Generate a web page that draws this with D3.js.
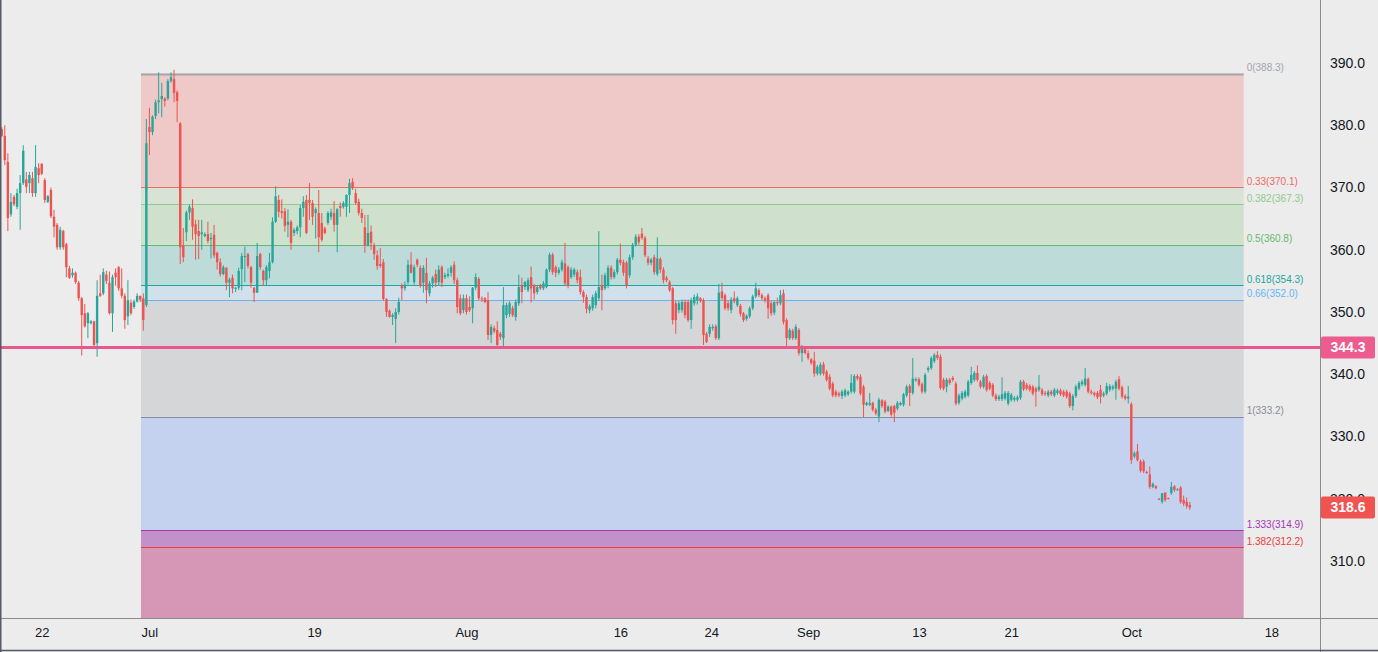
<!DOCTYPE html>
<html>
<head>
<meta charset="utf-8">
<script src="https://cdn.jsdelivr.net/npm/d3@7"></script>
<style>
  body { margin: 0; background: #ececec; overflow: hidden; }
  svg { display: block; font-family: "Liberation Sans", Arial, sans-serif; }
</style>
</head>
<body>
<div id="chart"></div>
<script>

// candles are [open, high, low, close], 5 bars per trading day
var junCandles = [
  [379.4,379.7,378.1,378.3],[378.3,380.0,373.6,374.4],[374.1,375.5,363.0,365.1],[365.7,369.1,365.3,367.7],
  [368.5,368.8,367.0,367.3],[366.9,369.8,366.5,369.1],[369.1,372.0,363.2,370.7],[370.7,376.8,370.4,375.9],
  [371.3,372.5,369.1,370.1],[370.7,372.5,369.1,372.0],[371.5,372.5,368.5,369.1],[369.1,376.8,368.5,373.3],
  [373.1,373.9,370.7,372.0],[373.8,373.9,372.0,372.2],[371.2,371.5,367.5,368.0],[367.7,368.8,367.5,368.6],
  [369.6,370.0,365.1,365.4],[365.3,366.4,362.0,363.7],[364.0,364.3,360.0,360.4],[360.4,363.7,360.0,363.2],
  [363.0,363.2,360.0,360.4],[360.9,361.1,355.6,357.2],[357.0,357.4,355.3,355.5],[355.9,357.0,355.5,356.3],
  [356.3,356.5,354.5,354.8],[354.7,355.0,351.8,352.2],[352.2,352.4,343.0,349.5],[349.8,351.3,347.5,347.7],
  [348.2,350.0,345.8,349.8],[348.2,348.7,348.0,348.5],[348.5,348.6,344.5,344.7],[345.0,355.1,342.8,352.6],
  [353.0,356.0,352.4,352.6],[353.0,357.0,352.7,356.4],[356.0,356.6,354.5,355.0],[354.7,356.5,349.6,349.8],
  [349.8,356.0,346.8,355.6],[356.3,357.0,354.2,355.6],[357.2,357.4,353.4,353.8],[353.8,357.0,352.2,352.6],
  [352.6,353.0,347.3,348.7],[349.3,355.1,347.9,351.9],[351.5,352.0,349.5,349.8],[350.8,352.0,350.5,351.7],
  [351.7,353.0,351.5,352.6],[352.6,352.6,351.6,352.0],[352.2,353.0,347.0,348.7]
];

var julCandles = [
  [351.1,381.0,350.8,377.1],[379.7,382.8,375.2,378.9],[378.9,381.6,378.4,381.4],[381.5,384.1,381.0,383.7],
  [383.7,388.5,381.9,384.0],[384.2,386.8,381.3,384.7],[384.3,384.5,383.0,383.9],[384.3,387.4,384.0,387.1],
  [387.1,388.5,386.8,387.7],[387.4,388.9,383.7,385.2],[385.3,385.6,380.5,383.9],[380.3,380.5,357.7,360.4],
  [360.7,363.5,358.0,358.8],[362.8,366.3,361.4,366.0],[366.0,367.3,364.8,366.9],[366.7,368.1,361.6,363.7],
  [364.1,364.8,358.4,362.5],[363.0,364.8,358.5,362.2],[362.5,364.8,360.0,362.8],[362.2,362.8,362.0,362.5],
  [362.5,364.5,361.0,361.4],[361.7,362.7,358.6,361.9],[362.4,364.0,358.7,359.1],[359.5,359.7,356.8,358.0],
  [358.0,358.6,355.7,356.1],[356.1,357.5,355.9,357.2],[357.1,357.2,353.5,354.7],[354.7,355.5,352.4,355.2],
  [355.5,356.0,353.0,353.8],[353.7,354.0,353.2,353.9],[353.9,357.1,353.5,356.6],[356.9,359.5,353.5,359.0],
  [358.9,360.5,354.8,359.0],[359.3,359.5,357.0,357.4],[357.2,357.4,353.9,354.7],[353.9,354.0,351.6,353.1],
  [353.1,361.1,353.1,359.0],[359.3,359.5,356.8,357.2],[356.6,356.8,354.2,355.1],[355.1,357.5,354.3,357.2],
  [356.6,359.5,355.4,358.0],[358.0,365.2,357.8,364.5],[364.5,370.2,364.3,368.6],[368.0,368.8,365.2,366.1],
  [366.2,368.1,365.0,365.9],[366.2,366.7,362.9,363.8],[364.0,366.5,362.0,364.5],[364.5,364.8,360.0,361.1],
  [362.7,363.5,362.2,363.2],[363.0,363.9,362.5,363.6],[363.6,367.2,362.0,366.7],[366.7,368.6,365.3,367.7],
  [368.0,368.8,362.5,362.7],[368.0,370.7,364.8,367.5],[367.5,368.0,364.0,365.3],[365.9,366.8,361.8,366.5],
  [365.9,369.6,359.6,362.0],[364.3,365.9,361.3,361.6],[363.4,363.7,362.5,362.7],[364.3,366.2,364.0,365.9],
  [365.3,366.6,364.8,366.0],[365.9,367.8,362.9,364.0],[364.0,366.7,359.6,366.5],[367.0,367.6,365.3,366.7],
  [366.9,367.8,366.6,367.5],[366.9,368.9,365.3,368.8],[368.8,371.4,365.9,370.7],[370.9,371.5,369.6,369.9],
  [369.1,369.8,367.2,367.5],[367.7,368.2,365.5,365.9],[365.9,366.6,364.3,365.1],[363.6,365.6,359.5,360.7],
  [360.7,365.6,360.5,362.7],[362.9,363.9,360.0,361.1],[360.7,361.1,358.4,359.3],[359.1,359.9,356.8,357.4],
  [357.7,360.3,357.1,357.4],[358.0,358.5,351.8,352.1],[352.1,352.2,349.2,350.0],[350.2,350.4,349.1,349.2],
  [349.2,349.8,347.9,349.5],[348.9,350.6,345.0,350.0],[350.0,352.3,349.6,351.6],[354.3,354.6,351.9,353.8],
  [353.8,354.9,353.4,354.4],[354.8,358.4,354.4,357.6],[357.6,359.6,356.2,356.3],[354.8,357.6,354.4,357.2],
  [358.4,358.6,357.2,357.6],[357.1,357.5,353.9,354.3],[354.7,357.5,353.1,357.1],[356.3,358.7,351.4,353.5],
  [353.0,355.0,352.5,354.6],[354.6,355.8,353.9,355.5],[356.1,356.8,354.0,354.7],[354.8,357.5,354.3,356.8],
  [357.2,357.5,354.0,354.7],[355.6,356.3,355.3,355.9],[355.8,357.0,355.5,356.1],[356.3,357.5,355.7,357.2],
  [357.6,358.1,354.5,355.1],[355.1,355.5,349.8,350.8],[352.2,352.8,349.5,349.8],[350.3,352.8,349.8,352.2],
  [352.2,352.8,349.6,350.0]
];

var augCandles = [
  [350.8,352.5,350.0,350.3],[350.6,354.0,348.2,353.9],[353.9,356.2,353.5,355.6],[355.3,355.6,351.9,352.2],
  [352.2,352.5,351.6,352.1],[352.2,352.4,351.4,351.6],[351.9,353.2,345.5,346.3],[346.3,348.0,345.0,347.6],
  [347.4,347.8,346.6,346.9],[347.1,348.5,344.4,344.7],[346.5,346.8,345.5,346.0],[345.8,354.0,344.5,351.1],
  [349.5,351.5,349.0,351.1],[349.7,351.7,349.2,351.4],[350.6,351.0,349.2,349.5],[349.2,352.0,348.6,351.6],
  [351.4,356.0,351.0,354.0],[354.3,355.5,351.4,353.2],[354.0,355.0,353.5,354.8],[353.5,355.5,353.2,355.1],
  [355.6,357.3,351.5,353.8],[354.3,354.5,352.0,353.0],[353.2,354.3,352.8,354.0],[354.3,354.5,353.5,353.8],
  [353.8,355.0,353.5,354.6],[354.0,357.0,353.8,356.8],[356.8,359.5,356.4,359.2],[359.2,359.5,356.0,356.4],
  [357.2,357.5,355.6,356.3],[356.3,357.2,356.0,356.8],[356.8,358.4,356.5,358.0],[357.8,361.1,354.3,354.6],
  [357.2,357.5,353.8,354.3],[355.6,357.2,355.3,356.8],[356.0,357.1,355.6,356.8],[356.4,356.8,354.6,355.1],
  [355.6,356.8,352.8,353.2],[353.2,353.5,351.5,352.4],[352.4,352.8,349.8,350.5],[350.3,351.2,349.8,350.9],
  [350.6,352.8,350.2,352.4],[351.1,353.4,350.6,353.0],[352.2,363.0,351.8,354.0],[354.3,356.0,350.3,353.5],
  [353.8,356.3,353.5,355.9],[354.3,357.5,353.8,357.1],[357.1,357.5,355.2,355.6],[355.6,356.8,355.3,356.4],
  [356.4,358.7,356.0,358.4],[358.4,361.0,357.5,357.9],[358.0,358.4,355.8,356.3],[357.9,358.2,353.8,354.3],
  [355.9,359.2,355.5,358.8],[358.8,361.1,358.4,360.8],[360.8,362.5,360.5,362.1],[362.1,362.5,360.8,361.2],
  [362.6,363.5,361.6,361.9],[361.9,362.2,358.8,359.1],[358.6,359.0,357.5,357.9],[357.9,358.7,357.5,358.4],
  [358.8,359.2,356.0,356.4],[356.1,362.0,355.8,358.6],[358.5,358.8,356.3,356.8],[356.8,357.2,354.6,355.1],
  [355.5,355.8,354.8,355.1],[354.8,355.1,353.2,353.5],[353.8,354.0,348.0,348.7],[351.4,351.8,346.5,348.7],
  [350.3,351.8,349.8,351.4],[350.3,352.0,349.9,351.6],[351.6,352.0,349.0,349.5],[351.6,352.0,348.4,348.7],
  [348.7,352.3,347.3,351.9],[351.4,352.8,351.0,352.4],[351.9,353.0,351.2,352.5],[352.2,352.4,351.5,351.8],
  [351.9,352.2,344.7,346.3],[346.5,346.8,345.0,345.2],[346.5,348.0,346.0,347.6],[347.4,348.0,347.0,347.6],
  [347.7,348.0,345.5,345.8],[345.8,354.5,345.5,353.1],[353.3,354.7,351.9,352.2],[352.7,353.0,350.3,350.6],
  [351.4,351.8,350.2,350.6],[350.3,352.4,349.8,352.0],[352.2,353.3,351.4,351.7],[351.1,352.5,350.8,352.2],
  [351.0,351.3,349.3,349.7],[349.8,350.0,348.4,348.7],[348.9,349.6,348.6,349.4],[349.3,350.9,349.0,350.6],
  [350.6,352.8,350.3,352.5],[352.5,354.7,352.2,353.8],[353.5,353.8,352.4,352.7],[352.7,353.0,351.9,352.2],
  [352.2,352.5,351.5,351.9],[352.7,353.0,348.9,350.6],[351.4,351.8,349.4,349.8],[349.9,351.8,349.5,351.6],
  [351.6,352.3,351.0,351.4],[351.4,353.5,351.1,352.7],[353.0,353.6,348.0,348.4],[348.7,349.0,344.4,345.8],
  [345.8,347.4,345.5,347.1],[347.0,347.3,345.5,345.8],[345.8,348.0,345.5,347.6],[347.1,347.4,343.0,343.4],
  [343.4,344.7,342.0,344.4],[344.0,344.3,343.2,343.4]
];

var sepCandles = [
  [343.4,343.8,342.3,342.6],[342.4,342.6,341.5,341.8],[342.2,343.6,339.6,340.1],[340.1,341.5,339.8,341.2],
  [340.1,341.9,339.8,341.5],[341.6,342.0,339.8,340.1],[340.4,340.7,338.8,339.1],[339.6,340.0,337.4,337.7],
  [338.5,338.8,336.3,336.6],[337.2,337.5,336.3,336.6],[336.9,337.2,336.3,336.6],[336.5,337.5,336.0,337.2],
  [336.6,337.7,336.3,337.4],[336.8,337.4,336.5,337.2],[337.2,340.0,336.9,338.6],[337.2,340.0,336.9,339.7],
  [339.7,340.0,339.0,339.3],[339.6,340.0,336.6,336.9],[338.0,338.3,333.1,335.1],[335.1,335.6,334.9,335.4],
  [335.1,337.0,334.9,335.4],[335.4,335.6,334.0,334.3],[334.3,334.6,333.4,333.7],[333.2,336.2,332.3,335.9],
  [335.8,336.0,334.6,334.9],[335.6,335.9,333.7,334.0],[334.1,335.0,333.9,334.8],[334.8,335.0,333.2,333.5],
  [334.9,335.1,332.3,333.8],[334.5,335.7,334.2,335.4],[335.1,335.6,334.9,335.4],[335.1,337.0,334.8,336.8],
  [336.6,338.3,336.3,338.0],[338.1,338.4,334.9,337.0],[337.0,342.6,336.7,339.3],[339.0,339.5,338.8,339.2],
  [339.2,339.5,338.0,338.3],[338.4,338.7,336.9,337.2],[337.2,340.2,336.9,339.9],[340.7,341.3,340.3,341.0],
  [341.0,342.9,340.7,342.6],[342.1,343.4,341.8,343.1],[343.1,343.7,342.3,342.6],[342.8,343.2,337.5,337.8],
  [339.1,339.4,337.4,337.7],[338.0,339.4,337.1,339.1],[339.1,339.4,338.3,338.6],[339.4,339.7,338.8,339.1],
  [338.5,338.8,335.0,335.3],[335.4,336.9,335.1,336.6],[336.1,337.3,335.8,337.0],[336.4,337.5,336.1,337.2],
  [336.6,339.1,336.3,338.8],[338.6,341.2,338.3,339.9],[339.1,340.5,338.8,340.2],[340.2,341.4,338.8,339.1],
  [338.8,339.1,337.7,338.0],[338.0,339.9,337.7,339.6],[339.7,340.0,337.2,337.5],[338.6,338.9,337.4,337.7],
  [338.3,338.6,336.3,336.6],[336.6,336.9,335.7,336.0],[336.0,336.7,335.7,336.4],[336.0,339.5,335.7,336.8],
  [336.1,337.3,335.8,337.0],[335.3,337.3,335.0,337.0],[335.9,337.0,335.6,336.7],[335.9,336.5,335.6,336.2],
  [335.9,336.6,335.6,336.3],[336.2,339.1,335.9,338.8],[338.8,339.1,337.3,337.6],[338.3,338.6,337.4,337.7],
  [338.1,338.4,337.2,337.5],[338.0,338.3,336.6,336.9],[337.7,338.0,334.8,337.2],[337.5,339.9,337.2,338.0],
  [337.5,337.8,336.5,336.8],[337.0,337.3,336.5,336.8],[336.6,337.5,336.3,337.2],[337.2,337.5,336.5,336.8],
  [336.6,337.8,336.3,337.5],[337.0,337.7,336.7,337.4],[337.4,337.7,336.5,336.8],[337.2,337.5,336.3,336.6],
  [337.2,337.5,336.1,336.4],[336.9,337.2,334.6,334.9],[334.9,336.8,334.2,336.5],[336.5,338.3,336.2,338.0],
  [337.7,338.9,337.4,338.6],[338.4,339.1,338.1,338.8],[338.3,341.0,338.0,339.3],[339.2,339.5,336.9,337.2],
  [337.2,337.5,336.7,337.0],[337.0,337.2,336.4,336.7],[337.0,337.3,336.0,336.3],[337.5,338.3,335.3,336.4],
  [336.6,337.2,336.3,336.9],[336.9,338.6,336.6,338.1],[337.5,338.4,337.2,338.1],[337.7,338.3,337.4,338.0],
  [337.7,339.1,335.9,338.8],[339.2,339.7,337.4,337.7],[337.9,338.2,336.1,336.4],[336.5,336.8,335.8,336.1],
  [336.1,338.1,335.3,336.4]
];

var octCandles = [
  [335.2,335.5,325.6,326.2],[326.8,327.6,326.5,327.3],[327.6,328.8,326.0,326.2],[326.0,326.3,324.2,324.5],
  [326.0,326.3,324.1,324.4],[324.3,324.5,324.0,324.2],[323.9,325.2,321.6,321.9],[321.9,322.6,321.7,322.4],
  [322.0,322.2,321.5,321.7],[320.0,320.1,319.8,319.9],[319.5,320.9,319.2,320.9],[321.0,321.0,319.5,319.8],
  [320.1,320.2,319.9,320.0],[320.9,322.7,320.6,321.9],[322.0,322.2,321.1,321.4],[321.5,321.7,321.3,321.5],
  [321.8,322.0,319.2,319.5],[319.8,320.5,318.8,319.2],[319.5,320.2,318.4,318.8],[319.0,319.5,318.2,318.6]
];

// trading-day index (0 = Jul 1) where each month's bars start
var monthStartDay = [-9.4, 0, 21, 43, 64];
var barsPerDay = 5;

var tickLabels = ["22", "Jul", "19", "Aug", "16", "24", "Sep", "13", "21", "Oct", "18"];
var tickDays   = [-6.8, 0.2, 10.9, 20.8, 30.8, 36.7, 43, 50.2, 56.2, 64, 73.1];

var priceTicks = [390, 380, 370, 360, 350, 340, 330, 320, 310];

// fibonacci retracement
var fibLevels = ["0", "0.33", "0.382", "0.5", "0.618", "0.66", "1", "1.333", "1.382"];
var fibPrices = [388.3, 370.1, 367.3, 360.8, 354.3, 352.0, 333.2, 314.9, 312.2];
var fibColors = ["#a3a6ad", "#f4665f", "#8fca8f", "#66b86a", "#22a69a", "#64b5f6", "#8a8d94", "#a535b5", "#ef3b3b"];
var fibFills  = ["#eec9c7", "#d8e3d6", "#cfe0cc", "#bddbd9", "#d1e1ec", "#d5d6d8", "#c5d2ef", "#c291c9", "#d696b6"];
var fibNextPrice = 299.1;   // 1.618, off the bottom of the view
var fibStartDay = -0.35, fibEndDay = 71.3;

var levelPrice = 344.3;
var lastPrice = 318.6;

var width = 1378, height = 652;
var plotW = 1320, plotH = 618;

var svg = d3.select("#chart").append("svg")
    .attr("width", width)
    .attr("height", height);

svg.append("rect").attr("width", width).attr("height", height).attr("fill", "#ececec");

var xScale = d3.scaleLinear().domain([-9.51, 76.26]).range([0, plotW]);
var yScale = d3.scaleLinear().domain([300.84, 400.12]).range([plotH, 0]);

svg.append("clipPath").attr("id", "plotClip")
  .append("rect").attr("width", plotW).attr("height", plotH);

var plot = svg.append("g").attr("clip-path", "url(#plotClip)");

// fib bands
var bandTops = fibPrices;
var bandBottoms = fibPrices.slice(1).concat([fibNextPrice]);
plot.selectAll(".band")
  .data(bandTops)
  .enter().append("rect")
  .attr("class", "band")
  .attr("x", xScale(fibStartDay))
  .attr("width", xScale(fibEndDay) - xScale(fibStartDay))
  .attr("y", d => yScale(d))
  .attr("height", (d, i) => yScale(bandBottoms[i]) - yScale(d))
  .attr("fill", (d, i) => fibFills[i]);

plot.selectAll(".fibline")
  .data(fibPrices)
  .enter().append("line")
  .attr("class", "fibline")
  .attr("x1", xScale(fibStartDay))
  .attr("x2", xScale(fibEndDay))
  .attr("y1", d => Math.round(yScale(d)) + 0.5)
  .attr("y2", d => Math.round(yScale(d)) + 0.5)
  .attr("stroke", (d, i) => fibColors[i])
  .attr("stroke-width", (d, i) => i === 0 ? 2 : 1);

svg.selectAll(".fiblabel")
  .data(fibPrices)
  .enter().append("text")
  .attr("class", "fiblabel")
  .attr("x", xScale(fibEndDay) + 3)
  .attr("y", d => yScale(d) - 5)
  .attr("dominant-baseline", "middle")
  .attr("font-size", "10px")
  .attr("fill", (d, i) => fibColors[i])
  .text((d, i) => fibLevels[i] + "(" + d.toFixed(1) + ")");

// candles
var candles = [];
[junCandles, julCandles, augCandles, sepCandles, octCandles].forEach(function(arr, m) {
  arr.forEach(function(d, i) {
    candles.push({ day: monthStartDay[m] + i / barsPerDay, o: d[0], h: d[1], l: d[2], c: d[3] });
  });
});

var up = "#26a69a", down = "#ef5350";
var bodyW = 2.4;

var candleG = plot.selectAll(".candle")
  .data(candles)
  .enter().append("g")
  .attr("class", "candle");

candleG.append("line")
  .attr("x1", d => xScale(d.day))
  .attr("x2", d => xScale(d.day))
  .attr("y1", d => yScale(d.h))
  .attr("y2", d => yScale(d.l))
  .attr("stroke", d => d.c >= d.o ? up : down)
  .attr("stroke-width", 1);

candleG.append("rect")
  .attr("x", d => xScale(d.day) - bodyW / 2)
  .attr("width", bodyW)
  .attr("y", d => yScale(Math.max(d.o, d.c)))
  .attr("height", d => Math.max(1, Math.abs(yScale(d.o) - yScale(d.c))))
  .attr("fill", d => d.c >= d.o ? up : down);

// horizontal level line
plot.append("line")
  .attr("x1", 0).attr("x2", plotW)
  .attr("y1", yScale(levelPrice)).attr("y2", yScale(levelPrice))
  .attr("stroke", "#e9588c")
  .attr("stroke-width", 3);

// axes frame
svg.append("line").attr("x1", 0).attr("x2", width)
  .attr("y1", plotH + 0.5).attr("y2", plotH + 0.5)
  .attr("stroke", "#8a8a8a");
svg.append("line").attr("x1", plotW + 0.5).attr("x2", plotW + 0.5)
  .attr("y1", 0).attr("y2", height)
  .attr("stroke", "#8a8a8a");
svg.append("line").attr("x1", 0.5).attr("x2", 0.5)
  .attr("y1", 0).attr("y2", height)
  .attr("stroke", "#555a66").attr("stroke-width", 2);
svg.append("line").attr("x1", 0).attr("x2", width)
  .attr("y1", height - 1.5).attr("y2", height - 1.5)
  .attr("stroke", "#555a66").attr("stroke-width", 1.5);

// price axis
var yAxis = d3.axisRight(yScale)
  .tickValues(priceTicks)
  .tickFormat(d3.format(".1f"))
  .tickSize(0)
  .tickPadding(10);

var yAxisG = svg.append("g")
  .attr("transform", `translate(${plotW}, 0)`)
  .call(yAxis);
yAxisG.select(".domain").remove();
yAxisG.selectAll("text")
  .attr("font-size", "14px")
  .attr("font-family", "Liberation Sans, Arial, sans-serif")
  .attr("fill", "#131722");

// time axis
var xAxis = d3.axisBottom(xScale)
  .tickValues(tickDays)
  .tickFormat((d, i) => tickLabels[i])
  .tickSize(0)
  .tickPadding(10);

var xAxisG = svg.append("g")
  .attr("transform", `translate(0, ${plotH})`)
  .call(xAxis);
xAxisG.select(".domain").remove();
xAxisG.selectAll("text")
  .attr("font-size", "13px")
  .attr("font-family", "Liberation Sans, Arial, sans-serif")
  .attr("fill", "#131722");

// price badges
var badges = [
  { price: levelPrice, color: "#ec5c8e" },
  { price: lastPrice, color: "#f05350" }
];
var badgeG = svg.selectAll(".badge")
  .data(badges)
  .enter().append("g")
  .attr("class", "badge")
  .attr("transform", d => `translate(${plotW + 1}, ${yScale(d.price)})`);

badgeG.append("rect")
  .attr("x", 0).attr("y", -11)
  .attr("width", 54).attr("height", 22)
  .attr("rx", 2)
  .attr("fill", d => d.color);

badgeG.append("text")
  .attr("x", 27).attr("y", 0)
  .attr("text-anchor", "middle")
  .attr("dominant-baseline", "central")
  .attr("font-size", "14px")
  .attr("font-weight", "bold")
  .attr("fill", "#ffffff")
  .text(d => d.price.toFixed(1));

</script>
</body>
</html>
